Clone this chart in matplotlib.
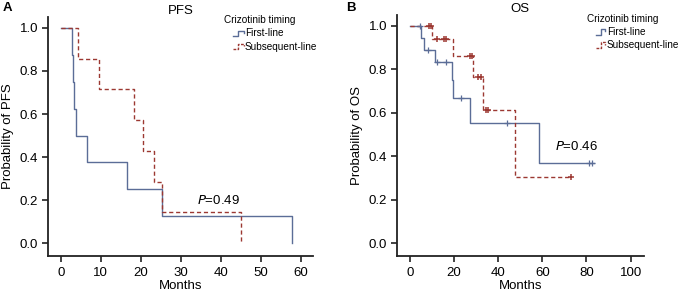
import matplotlib
matplotlib.use("Agg")
import matplotlib.pyplot as plt
import numpy as np

plt.rcParams['font.family'] = ['Liberation Sans', 'DejaVu Sans']

# ---------------- data ----------------
# PFS (step times in months, survival after each step)
pfs_first_t = [0, 2.8, 3.1, 3.4, 3.9, 6.5, 16.6, 25.2, 57.8]
pfs_first_s = [1.0, 0.875, 0.75, 0.625, 0.5, 0.375, 0.25, 0.125, 0.0]
pfs_sub_t = [0, 4.2, 9.5, 18.3, 20.5, 23.4, 25.4, 45.1]
pfs_sub_s = [1.0, 0.857, 0.714, 0.571, 0.429, 0.286, 0.143, 0.0]

# OS
os_first_t = [0, 5.1, 6.5, 11.6, 19.1, 19.8, 27.4, 58.6]
os_first_s = [1.0, 0.944, 0.889, 0.833, 0.75, 0.667, 0.555, 0.370]
os_first_end = 83.5
os_first_cens = [4.5, 8.3, 12.3, 16.3, 23.4, 43.9, 81.1, 82.3]

os_sub_t = [0, 10.1, 19.5, 28.5, 33.0, 47.8]
os_sub_s = [1.0, 0.938, 0.859, 0.766, 0.612, 0.306]
os_sub_end = 73.1
os_sub_cens = [8.9, 9.6, 12.4, 15.4, 16.6, 27.4, 28.0, 30.9, 32.4, 34.6, 35.6, 73.1]

pfs_xticks = [0, 10, 20, 30, 40, 50, 60]
os_xticks = [0, 20, 40, 60, 80, 100]
yticks = [0.0, 0.2, 0.4, 0.6, 0.8, 1.0]
legend_title = "Crizotinib timing"
series_names = ["First-line", "Subsequent-line"]

BLUE = "#5b6d97"
RED = "#9c3832"
FS = 9.5
DASH = (0, (3, 2))


def surv_at(times, surv, t):
    idx = np.searchsorted(times, t, side='right') - 1
    return surv[idx]


def style_axes(ax, xlim, ylim, xticks):
    ax.set_xlim(*xlim)
    ax.set_ylim(*ylim)
    ax.set_xticks(xticks)
    ax.set_yticks(yticks)
    ax.set_yticklabels([f"{v:.1f}" for v in yticks])
    for s in ['top', 'right']:
        ax.spines[s].set_visible(False)
    for s in ['left', 'bottom']:
        ax.spines[s].set_linewidth(1.3)
        ax.spines[s].set_color('#222222')
    ax.tick_params(axis='both', direction='out', length=4, width=1.2,
                   labelsize=FS, color='#222222', pad=3)
    ax.tick_params(axis='x', pad=4)


def draw_legend(ax, x0, y0):
    # y0 = title position in axes coords
    ax.text(x0, y0, legend_title, transform=ax.transAxes, fontsize=7.2,
            ha='left', va='center')
    dy = 0.055
    hx = x0 + 0.035
    for i, (name, col, ls) in enumerate(zip(series_names, [BLUE, RED], ['-', (0, (2, 1))])):
        yy = y0 - dy * (i + 1)
        xs = [hx, hx + 0.02, hx + 0.02, hx + 0.04, hx + 0.04]
        ys = [yy - 0.012, yy - 0.012, yy + 0.012, yy + 0.012, yy + 0.002]
        ax.plot(xs, ys, transform=ax.transAxes, color=col, lw=1.0, ls=ls,
                clip_on=False)
        ax.text(hx + 0.045, yy, name, transform=ax.transAxes, fontsize=7.2,
                ha='left', va='center')


fig = plt.figure(figsize=(6.84, 2.95), dpi=100)

# ---------------- PFS ----------------
ax1 = fig.add_axes([48 / 684, 1 - 255.7 / 295, (313 - 48) / 684, (255.7 - 16.7) / 295])
ax1.step(pfs_first_t, pfs_first_s, where='post', color=BLUE, lw=1.0)
ax1.step(pfs_sub_t, pfs_sub_s, where='post', color=RED, lw=1.0, ls=DASH)
style_axes(ax1, (-3.2, 63.1), (-0.058, 1.052), pfs_xticks)
ax1.set_xlabel("Months", fontsize=FS, labelpad=1)
ax1.set_ylabel("Probability of PFS", fontsize=FS, labelpad=4)
ax1.text(34, 0.20, r"$\it{P}$=0.49", fontsize=FS, ha='left', va='center')
ax1.set_title("PFS", fontsize=FS, pad=2)
draw_legend(ax1, 0.663, 0.985)

# ---------------- OS ----------------
ax2 = fig.add_axes([397 / 684, 1 - 255.7 / 295, (643.7 - 397) / 684, (255.7 - 15) / 295])
ax2.step(os_first_t + [os_first_end], os_first_s + [os_first_s[-1]], where='post',
         color=BLUE, lw=1.0)
ax2.step(os_sub_t + [os_sub_end], os_sub_s + [os_sub_s[-1]], where='post',
         color=RED, lw=1.0, ls=DASH)
ax2.plot(os_first_cens, [surv_at(os_first_t, os_first_s, t) for t in os_first_cens],
         ls='none', marker='+', ms=5, mew=0.9, color=BLUE)
ax2.plot(os_sub_cens, [surv_at(os_sub_t, os_sub_s, t) for t in os_sub_cens],
         ls='none', marker='+', ms=5, mew=1.1, color=RED)
style_axes(ax2, (-5.75, 105.9), (-0.057, 1.049), os_xticks)
ax2.set_xlabel("Months", fontsize=FS, labelpad=1)
ax2.set_ylabel("Probability of OS", fontsize=FS, labelpad=4)
ax2.text(65.9, 0.444, r"$\it{P}$=0.46", fontsize=FS, ha='left', va='center')
ax2.set_title("OS", fontsize=FS, pad=2)
draw_legend(ax2, 0.77, 0.985)

fig.text(3 / 684, 1 - 8 / 295, "A", fontsize=FS, fontweight='bold', ha='left', va='center')
fig.text(346 / 684, 1 - 8 / 295, "B", fontsize=FS, fontweight='bold', ha='left', va='center')

fig.savefig("out.png", dpi=100)
